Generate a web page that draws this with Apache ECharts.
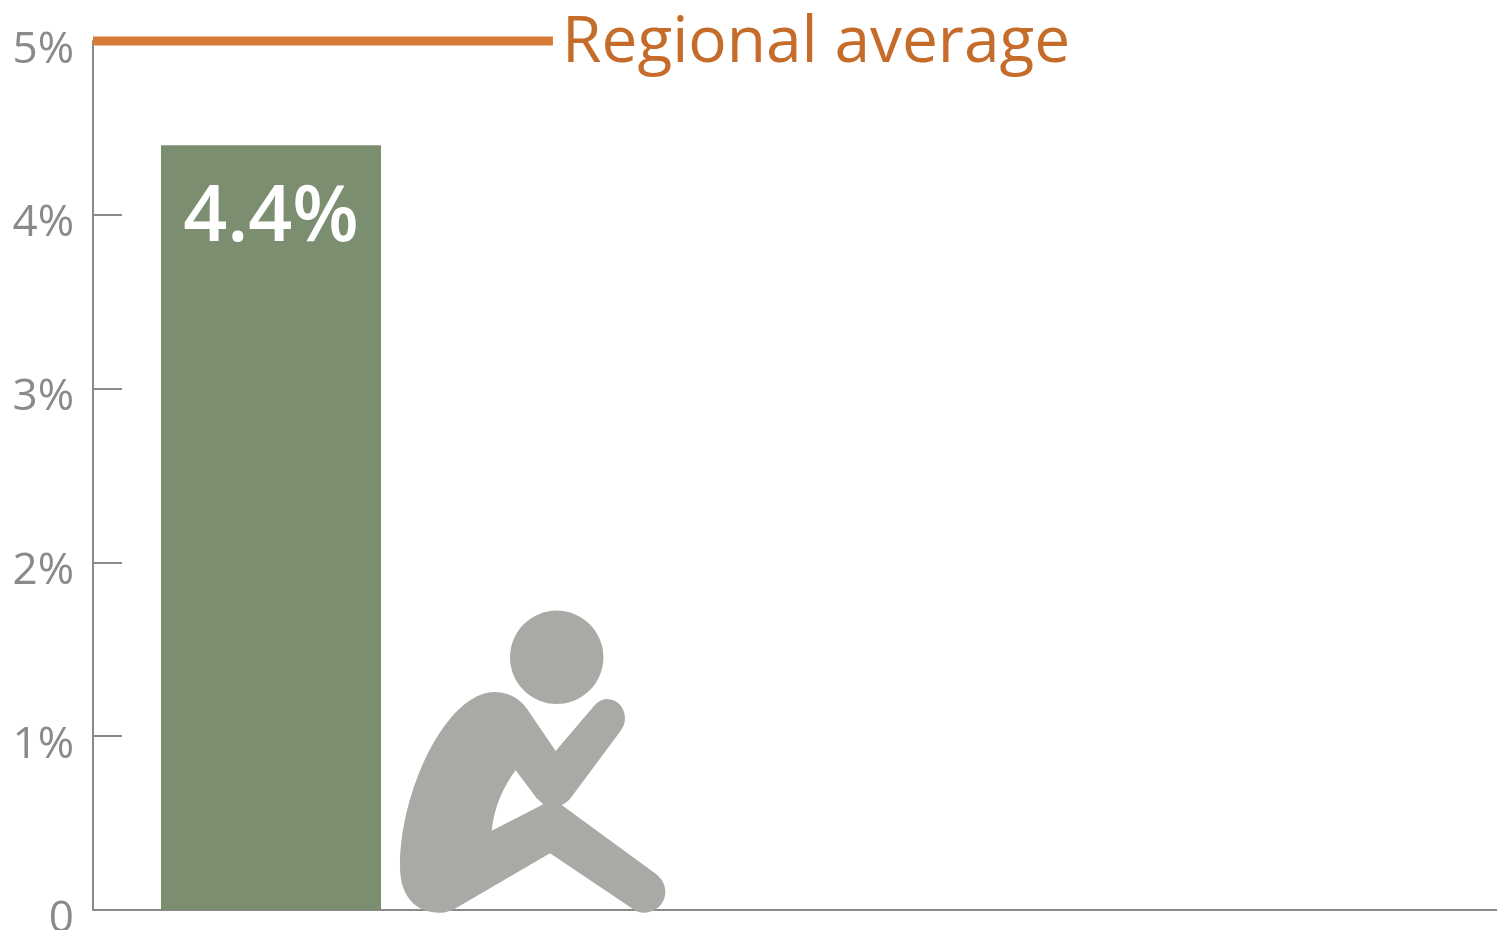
<!DOCTYPE html>
<html><head><meta charset="utf-8">
<style>html,body{margin:0;padding:0;background:#fff}#c{width:1497px;height:930px}</style>
<script src="https://cdn.jsdelivr.net/npm/echarts@6/dist/echarts.min.js"></script>
</head><body><div id="c"></div>
<script>
const categories = ['Respondents', '', '', ''];
const barValues = [4.4, null, null, null];
const regionalAverage = 5;
const regionalLabel = 'Regional average';
const regionalSpan = [0, 0.323];
const valueTicks = { min: 0, max: 5, interval: 1 };
const personBody = 'M180 968C100 968 60 910 60 830C60 600 200 306 345 306C395 306 430 335 450 370L527 483L640 350C655 333 668 327 680 327C712 327 735 352 735 385C735 400 730 412 720 425L575 620C565 633 556 640 545 645L825 850C845 865 856 883 856 905C856 940 828 968 790 968C778 968 768 964 760 958L510 790L235 950C215 962 198 968 180 968ZM407 541C370 590 343 650 335 722L490 643L470 625Z';

const chart = echarts.init(document.getElementById('c'), null, { renderer: 'canvas' });
chart.setOption({
  animation: false,
  grid: { left: 93, top: 41, width: 1424, height: 869, containLabel: false, outerBoundsMode: 'none' },
  xAxis: [
    { type: 'category', data: categories, axisTick: { show: false }, axisLabel: { show: false },
      axisLine: { onZero: false, lineStyle: { color: '#8a8a8a', width: 2 } } },
    { type: 'value', min: 0, max: 1, show: false }
  ],
  yAxis: {
    type: 'value', min: valueTicks.min, max: valueTicks.max, interval: valueTicks.interval,
    splitLine: { show: false },
    axisLine: { show: true, lineStyle: { color: '#8a8a8a', width: 2 } },
    axisTick: { show: true, inside: true, length: 29, lineStyle: { color: '#8a8a8a', width: 2 } },
    axisLabel: { color: '#8a8a8a', fontFamily: 'Open Sans', fontSize: 44, margin: 19, verticalAlign: 'top', lineHeight: 18,
      formatter: v => v === 0 ? '0' : v + '%' }
  },
  series: [
    { type: 'bar', data: barValues, barWidth: 220, itemStyle: { color: '#7b8e70' }, z: 2,
      label: { show: true, position: 'insideTop', distance: 35, color: '#fff', fontFamily: 'Open Sans', fontWeight: 600, fontSize: 77,
        formatter: p => p.value + '%' } },
    { type: 'line', xAxisIndex: 1, clip: false, symbol: 'none', z: 5,
      data: regionalSpan.map(x => [x, regionalAverage]),
      lineStyle: { color: '#d67a38', width: 9, cap: 'butt' },
      endLabel: { show: true, formatter: regionalLabel, color: '#c56c2a', fontFamily: 'Open Sans', fontSize: 64, distance: 9, offset: [0, 3] } },
    { type: 'custom', xAxisIndex: 1, clip: false, silent: true, z: 10, data: [[0, 0]],
      renderItem: () => ({ type: 'group', children: [
        { type: 'path', shape: { pathData: personBody, layout: 'cover', x: 400, y: 692, width: 265.33, height: 220.67 },
          style: { fill: '#a8aba5' } },
        { type: 'circle', shape: { cx: 556.7, cy: 657.3, r: 46.7 }, style: { fill: '#a8aba5' } }
      ] }) }
  ]
});
</script></body></html>
